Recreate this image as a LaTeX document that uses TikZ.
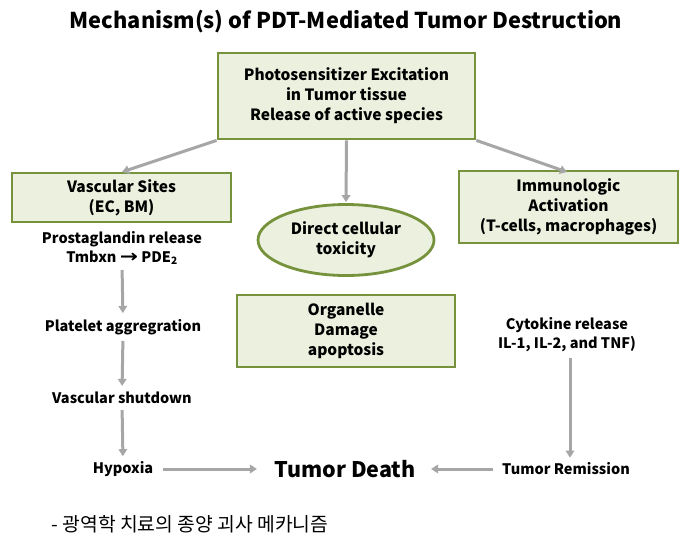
\documentclass[tikz,border=0pt]{standalone}
\usepackage{fontspec}
\setmainfont{Noto Sans CJK KR}
\newfontfamily\symfont{DejaVu Sans}
\usetikzlibrary{arrows.meta,shapes.geometric}
\definecolor{boxfill}{HTML}{EBF1DE}
\definecolor{boxline}{HTML}{76923C}
\definecolor{arrgray}{HTML}{A6A6A6}
\tikzset{
  gbox/.style={draw=boxline, fill=boxfill, line width=2.8pt, align=center, font=\bfseries\fontsize{15.5}{20}\selectfont, inner sep=0pt},
  gell/.style={ellipse, draw=boxline, fill=boxfill, line width=2.8pt, align=center, font=\bfseries\fontsize{15.5}{20}\selectfont, inner sep=0pt},
  lbl/.style={align=center, font=\bfseries\fontsize{14.5}{19}\selectfont, inner sep=0pt},
  arr/.style={draw=arrgray, line width=3pt, -{Triangle[width=8.5pt,length=7pt]}},
}
\begin{document}
\begin{tikzpicture}[x=1pt,y=-1pt]
\useasboundingbox (0,0) rectangle (692,543);
\node[font=\bfseries\fontsize{21.8}{26}\selectfont] (title) at (346,22) {Mechanism(s) of PDT-Mediated Tumor Destruction};
\node[gbox, minimum width=257pt, minimum height=86pt] (top) at (346.5,96) {Photosensitizer Excitation\\in Tumor tissue\\Release of active species};
\node[gbox, minimum width=219pt, minimum height=49pt] (vasc) at (121.5,197.5) {Vascular Sites\\(EC, BM)};
\node[gbox, minimum width=219pt, minimum height=72pt] (immu) at (568.5,207) {Immunologic\\Activation\\(T-cells, macrophages)};
\node[gell, minimum width=176pt, minimum height=71pt] (direct) at (346,240) {Direct cellular\\toxicity};
\node[gbox, minimum width=218pt, minimum height=72pt] (organ) at (346,331) {Organelle\\Damage\\apoptosis};
\node[lbl] (prost) at (122,248) {Prostaglandin release\\Tmbxn {\symfont\bfseries\fontsize{14.5}{19}\selectfont\scalebox{1.5}[1.2]{→}} PDE\textsubscript{2}};
\node[lbl] (plate) at (123,327) {Platelet aggregration};
\node[lbl] (vshut) at (122,398) {Vascular shutdown};
\node[lbl] (hypo) at (123,469) {Hypoxia};
\node[font=\bfseries\fontsize{21.5}{26}\selectfont] (death) at (345,469) {Tumor Death};
\node[lbl] (remis) at (566,469) {Tumor Remission};
\node[lbl] (cyto) at (567,335) {Cytokine release\\IL-1, IL-2, and TNF)};
\node[font=\fontsize{19.3}{23}\selectfont, anchor=west] (kor) at (48,524) {- 광역학 치료의 종양 괴사 메카니즘};
\coordinate (vtip) at (122,172);
\coordinate (itip) at (567,172);
\draw[arr] (top.south west) -- (vtip);
\draw[arr] (top.south) -- ([yshift=1pt]direct.north);
\draw[arr] (top.south east) -- (itip);
\draw[arr, shorten <=5pt, shorten >=6pt] (prost.south) -- (plate.north);
\draw[arr, shorten <=6pt, shorten >=6pt] (plate.south) -- (vshut.north);
\draw[arr, shorten <=6pt, shorten >=5pt] (vshut.south) -- (hypo.north);
\draw[arr, shorten <=6pt, shorten >=5pt] ([xshift=3pt]cyto.south) -- ([xshift=4pt]remis.north);
\draw[arr, shorten <=10pt, shorten >=14pt] (hypo.east) -- (death.west);
\draw[arr, shorten <=9pt, shorten >=12pt] (remis.west) -- (death.east);
\end{tikzpicture}
\end{document}
